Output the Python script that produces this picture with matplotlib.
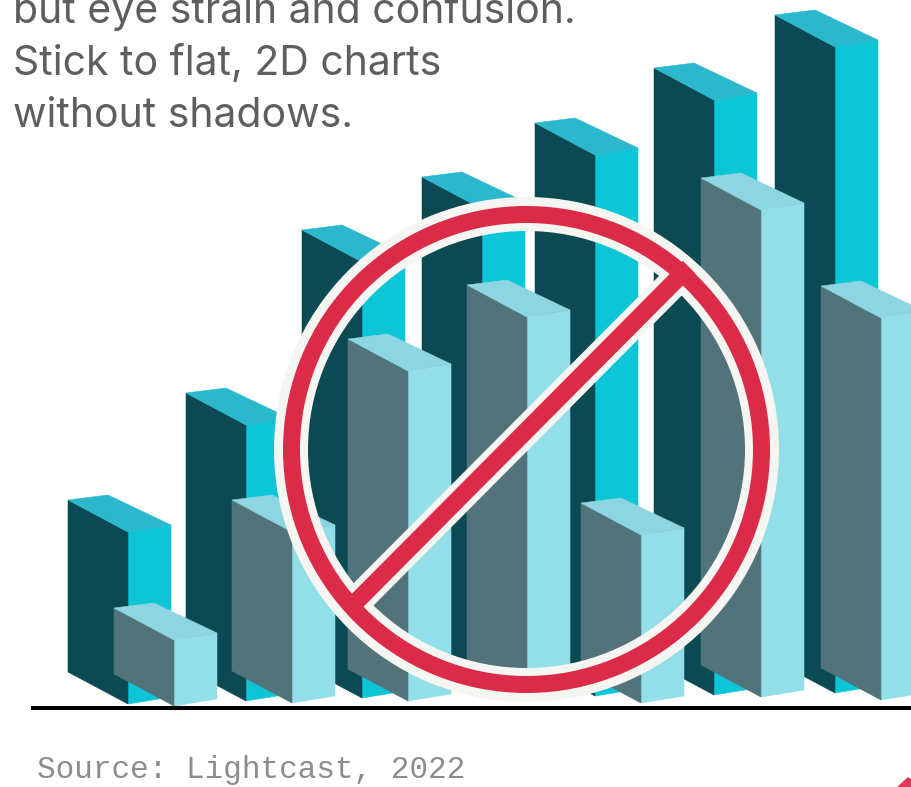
import matplotlib
matplotlib.use("Agg")
import matplotlib.pyplot as plt
from matplotlib.patches import Annulus, Polygon

# alturas
back_heights = [172, 276, 436, 488, 541, 595, 646]
front_heights = [66, 171, 330, 383, 168, 487, 382]

caption_lines = ["but eye strain and confusion.", "Stick to flat, 2D charts", "without shadows."]
source_text = "Source: Lightcast, 2022"

# === Layout ===
back_x = [68, 186, 302, 422, 535, 654, 775]
front_x = [114, 232, 348, 467, 581, 701, 821]
back_floor = [672, 669, 666, 665, 664, 663, 661]
front_floor = [674, 671, 669, 668, 671, 665, 668]

FACE_DX, FACE_DY = 60, 32
SIDE_DX, SIDE_DY = 43, -7
TOP_DX, TOP_DY = 40, -5

BACK_COLORS = ("#0b4953", "#0cc6d8", "#2bb8cd")
FRONT_COLORS = ("#53737a", "#93dfe9", "#8dd6e1")


def draw_bar(ax, x, floor, height, colors):
    """Dibuja una barra falsa en 3D: cara, lateral y tapa."""
    face, side, top = colors
    y = floor - height
    cx = x + FACE_DX
    rx = cx + SIDE_DX
    face_pts = [(x, y), (cx, y + FACE_DY), (cx, floor + FACE_DY), (x, floor)]
    side_pts = [(cx, y + FACE_DY), (rx, y + FACE_DY + SIDE_DY),
                (rx, floor + FACE_DY + SIDE_DY), (cx, floor + FACE_DY)]
    top_pts = [(x, y), (x + TOP_DX, y + TOP_DY),
               (rx, y + FACE_DY + SIDE_DY), (cx, y + FACE_DY)]
    for pts, color in ((side_pts, side), (face_pts, face), (top_pts, top)):
        ax.add_patch(Polygon(pts, closed=True, facecolor=color, edgecolor=color, linewidth=0.4))


fig = plt.figure(figsize=(9.12, 7.87), dpi=100, facecolor="white")
ax = fig.add_axes([0, 0, 1, 1])
ax.set_xlim(0, 912)
ax.set_ylim(787, 0)
ax.axis("off")

for x, floor, h in zip(back_x, back_floor, back_heights):
    draw_bar(ax, x, floor, h, BACK_COLORS)
for x, floor, h in zip(front_x, front_floor, front_heights):
    draw_bar(ax, x, floor, h, FRONT_COLORS)

# linea base
ax.plot([31, 912], [707.5, 707.5], color="black", lw=2.9, solid_capstyle="butt")

# === Signo de prohibido ===
center = (526.5, 449.5)
RED = "#dc2a49"
WHITE = "#f5f5f1"
ax.plot([347, 689], [611, 267], color=WHITE, lw=21.5, solid_capstyle="butt", zorder=5)
ax.add_patch(Annulus(center, 252.5, 34, facecolor=WHITE, edgecolor="none", zorder=6))
ax.add_patch(Annulus(center, 243.5, 17, facecolor=RED, edgecolor="none", zorder=7))
ax.plot([347, 689], [611, 267], color=RED, lw=12.5, solid_capstyle="butt", zorder=8)

# === Textos ===
for text, y in zip(caption_lines, [23, 75, 127]):
    ax.text(13, y, text, family="Inter", fontsize=29.5, color="#5e5e5e", va="baseline", ha="left", zorder=10)
ax.text(37, 778, source_text, family="Liberation Mono", fontsize=22.3, color="#8c8c8c", va="baseline", ha="left")

# esquina rosa recortada
ax.add_patch(Polygon([(897, 787), (908, 777), (912, 780), (912, 787)], closed=True, facecolor="#e8355a", edgecolor="none"))

fig.savefig("out.png", dpi=100)
